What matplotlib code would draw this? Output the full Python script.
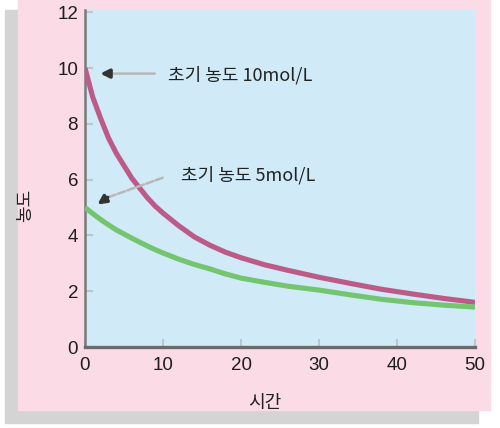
import matplotlib
matplotlib.use("Agg")
import matplotlib.pyplot as plt
from matplotlib.patches import Rectangle

# 시간 (x) 과 농도 값
time = [0, 1, 2, 3, 4, 5, 6, 7, 8, 9, 10, 12, 14, 16, 18, 20, 23, 26, 30, 34, 38, 42, 46, 50]
conc_10 = [10.0, 8.95, 8.2, 7.5, 6.95, 6.5, 6.05, 5.7, 5.35, 5.05, 4.8, 4.35, 3.95, 3.65,
           3.4, 3.2, 2.95, 2.75, 2.5, 2.28, 2.07, 1.9, 1.74, 1.6]
conc_5 = [5.0, 4.78, 4.57, 4.38, 4.2, 4.05, 3.9, 3.76, 3.62, 3.49, 3.37, 3.15, 2.96, 2.8,
          2.62, 2.47, 2.32, 2.18, 2.04, 1.87, 1.71, 1.59, 1.5, 1.43]
x_ticks = [0, 10, 20, 30, 40, 50]
y_ticks = [0, 2, 4, 6, 8, 10, 12]
label_10 = "초기 농도 10mol/L"
label_5 = "초기 농도 5mol/L"

plt.rcParams['font.family'] = ['Liberation Sans Narrow', 'Liberation Sans', 'DejaVu Sans']
kr = ['Noto Sans CJK KR', 'DejaVu Sans']

W, H = 500, 428
fig = plt.figure(figsize=(W / 100, H / 100), dpi=100)
fig.patch.set_facecolor('white')

# 회색 그림자 + 분홍 카드
fig.patches.append(Rectangle((5 / W, 1 - 423 / H), 473 / W, 413 / H,
                             transform=fig.transFigure, color='#d4d4d4', zorder=-2))
fig.patches.append(Rectangle((18 / W, 1 - 410 / H), 472 / W, 410 / H,
                             transform=fig.transFigure, color='#fadbe6', zorder=-1))

left, right, top, bottom = 85, 475, 10, 347
ax = fig.add_axes([left / W, 1 - bottom / H, (right - left) / W, (bottom - top) / H])
ax.set_facecolor('#d0eaf7')

ax.plot(time, conc_10, color='#bd5b88', lw=3.7, solid_capstyle='butt', zorder=3)
ax.plot(time, conc_5, color='#74c570', lw=3.7, solid_capstyle='butt', zorder=3)

ax.set_xlim(0, 50)
ax.set_ylim(0, 12.08)
ax.set_xticks(x_ticks)
ax.set_yticks(y_ticks)
for s in ['top', 'right']:
    ax.spines[s].set_visible(False)
ax.spines['left'].set_color('#7a7a7a')
ax.spines['left'].set_linewidth(1.8)
ax.spines['bottom'].set_color('#6a6a6a')
ax.spines['bottom'].set_linewidth(2.4)
ax.tick_params(direction='in', length=6, width=1.5, color='#bcc6cc', labelsize=13.5,
               labelcolor='#1e1e1e')
ax.tick_params(axis='y', pad=5)
ax.tick_params(axis='x', pad=7)

# 화살표 주석
ax.annotate('', xy=(3.0, 9.8), xytext=(9.3, 9.8),
            arrowprops=dict(arrowstyle='-', color='#b8b8b8', lw=1.8))
ax.annotate('', xy=(1.6, 9.8), xytext=(3.3, 9.8),
            arrowprops=dict(arrowstyle='-|>,head_length=0.5,head_width=0.25',
                            color='#333333', lw=2.5))
ax.text(10.6, 9.75, label_10, family=kr, fontsize=13, va='center', color='#222222')

ax.annotate('', xy=(2.8, 5.35), xytext=(10.3, 6.1),
            arrowprops=dict(arrowstyle='-', color='#b8b8b8', lw=1.8, ls=(0, (3, 1))))
ax.annotate('', xy=(1.3, 5.05), xytext=(3.2, 5.42),
            arrowprops=dict(arrowstyle='-|>,head_length=0.5,head_width=0.25',
                            color='#333333', lw=2.5))
ax.text(12.3, 6.15, label_5, family=kr, fontsize=13, va='center', color='#222222')

fig.text(265 / W, 1 - 403 / H, '시간', family=kr, fontsize=13, ha='center', va='center',
         color='#222222')
fig.text(25 / W, 1 - 205 / H, '농도', family=kr, fontsize=13, ha='center', va='center',
         rotation=90, color='#222222')

fig.savefig('out.png', dpi=100, facecolor=fig.get_facecolor())
